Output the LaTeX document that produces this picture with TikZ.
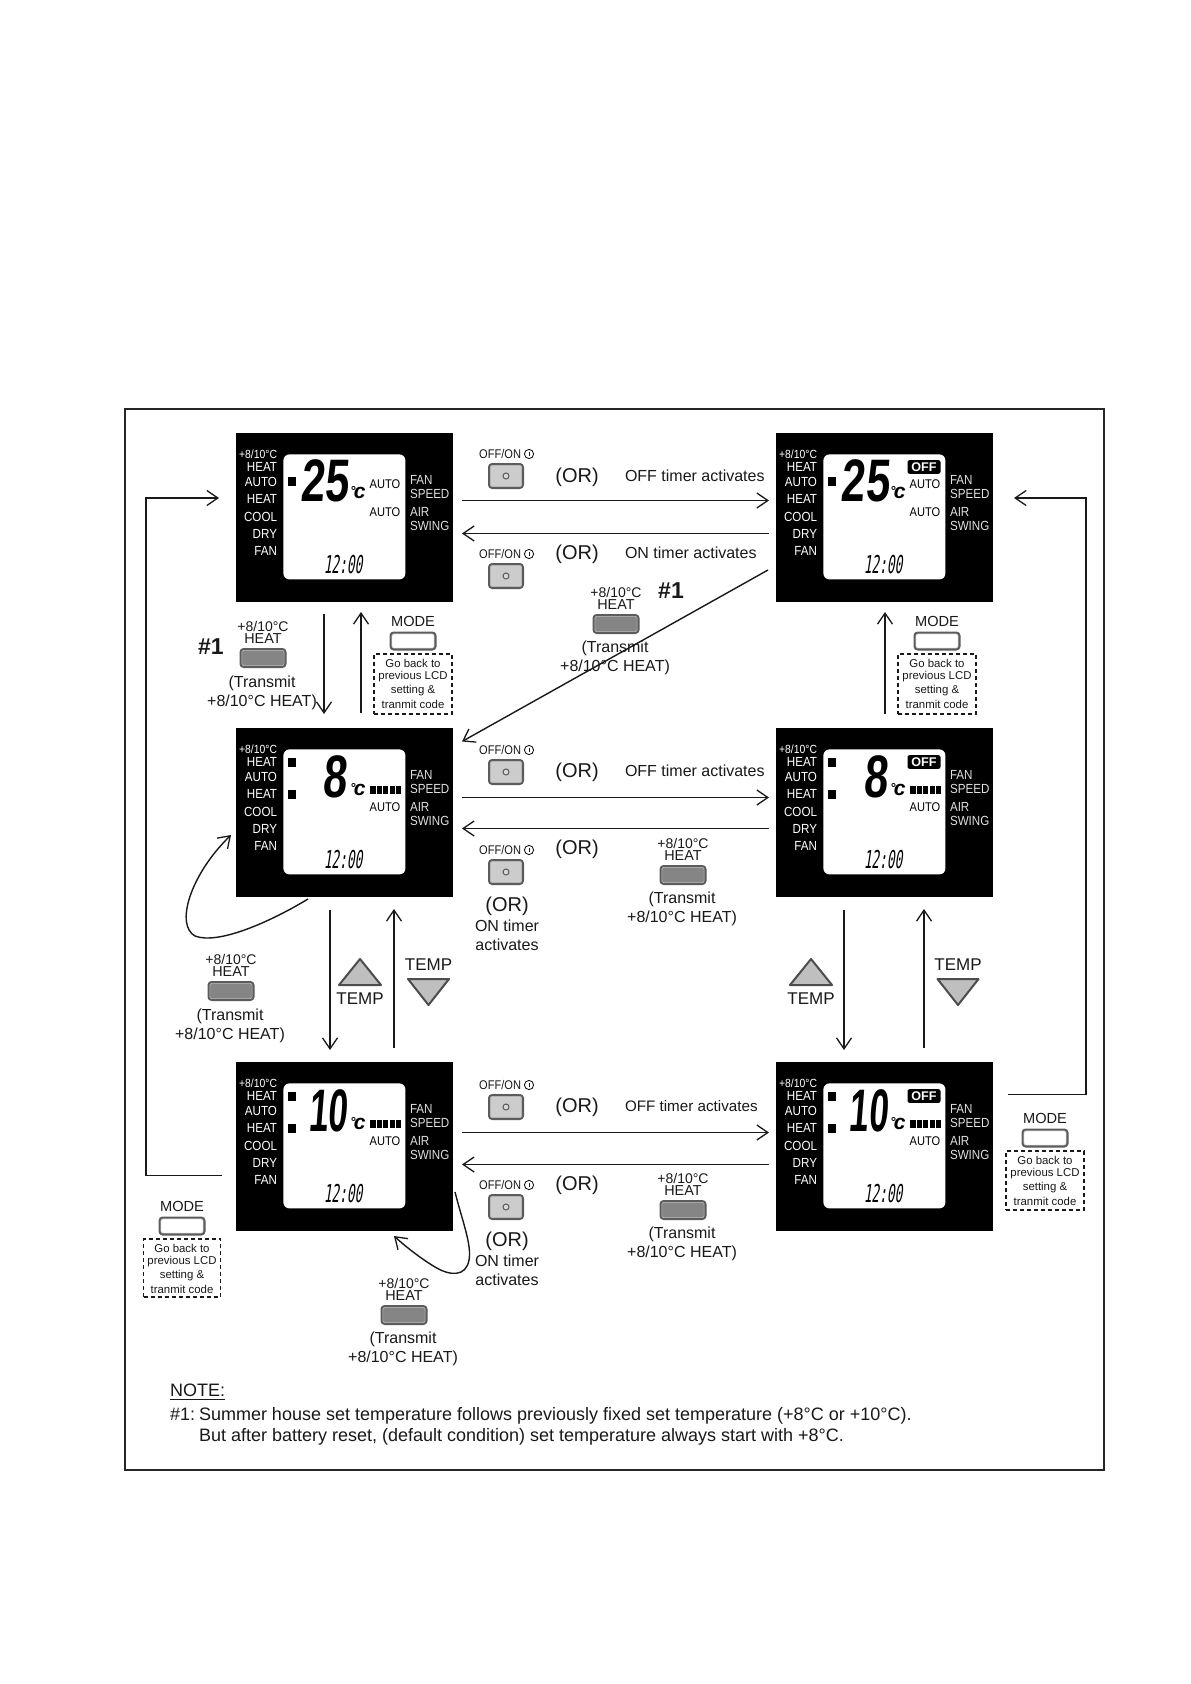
\documentclass[tikz,border=0pt]{standalone}
\usepackage{fontspec}
\setmainfont{Liberation Sans}
\newfontfamily\lcdf[FakeStretch=0.88]{Liberation Sans}
\newfontfamily\digbig[FakeStretch=0.72,FakeSlant=0.08]{Liberation Sans}
\newfontfamily\digten[FakeStretch=0.58,FakeSlant=0.08]{Liberation Sans}
\newfontfamily\digsmall[FakeStretch=0.52,FakeSlant=0.15]{DejaVu Sans Mono}
\usetikzlibrary{arrows.meta}
\definecolor{ink}{gray}{0.1}
\newcommand\fsz[1]{\fontsize{#1}{#1}\selectfont}
\newcounter{tn}
\tikzset{
  txt/.style={inner sep=0pt,outer sep=0pt,text=ink,font=\fsz{8}},
  lcdl/.style={txt,text=white,anchor=east,font=\lcdf\fsz{6.6}},
  lcdr/.style={txt,text=white!88!black,anchor=west,font=\lcdf\fsz{6.6}},
  dash box/.style={draw=ink,dashed,line width=0.7pt,dash pattern=on 2pt off 1.5pt,inner sep=0pt,outer sep=0pt},
  arr/.style={draw=ink,line width=0.7pt,-{Straight Barb[length=5.5pt,width=7.5pt,line width=0.65pt]}},
  tri/.style={draw=black!70,fill=black!25,line width=1pt,line join=round},
  btnout/.style={inner sep=0pt,outer sep=0pt,rounded corners=2pt,fill=black!64},
  btnin/.style={inner sep=0pt,outer sep=0pt,rounded corners=1pt},
}
\newcommand\tlab[4][]{\stepcounter{tn}\node[txt,#1] (t\arabic{tn}) at (#2,#3+1) {#4};}
% button: x y width height fill
\newcommand\btn[5]{\stepcounter{tn}%
  \node[btnout,minimum width=#3*0.5pt,minimum height=#4*0.5pt] (b\arabic{tn}) at (#1,#2) {};%
  \node[btnin,fill=#5,draw=white!75!black,line width=0.3pt,minimum width=#3*0.5pt-2.4pt,minimum height=#4*0.5pt-2.4pt] (bi\arabic{tn}) at (#1,#2) {};}
\newcommand\offbtn[2]{\btn{#1}{#2}{36}{26}{black!20}\stepcounter{tn}%
  \node[circle,draw=black!65,line width=0.5pt,minimum size=3pt,inner sep=0pt,fill=black!15] (c\arabic{tn}) at (#1,#2) {};}
\newcommand\heatbtn[2]{\btn{#1}{#2}{47}{20}{black!48}}
\newcommand\modebtn[2]{\btn{#1}{#2}{47}{19}{white}}
\newcommand\offlab[2]{\tlab[font=\lcdf\fsz{6.3},anchor=east]{#1+15}{#2-1}{OFF/ON}\stepcounter{tn}%
  \node[circle,draw=ink,line width=0.45pt,minimum size=4.6pt,inner sep=0pt] (c\arabic{tn}) at (#1+23,#2) {};%
  \draw[ink,line width=0.45pt] (#1+23,#2-2.5) -- (#1+23,#2+1.5);}
\newcommand\heatlab[2]{\tlab[font=\fsz{7}]{#1}{#2}{+8/10°C}\tlab[font=\fsz{7.2}]{#1}{#2+13}{HEAT}\heatbtn{#1}{#2+33}}
\newcommand\translab[2]{\tlab{#1}{#2}{(Transmit}\tlab{#1}{#2+19}{+8/10°C HEAT)}}
\newcommand\gonote[4]{\tlab[font=\fsz{7.3}]{#1}{#2-34}{MODE}\modebtn{#1}{#2-13}%
  \stepcounter{tn}\node[dash box,minimum width=#3*0.5pt,minimum height=#4*0.5pt,anchor=north] (d\arabic{tn}) at (#1,#2) {};%
  \tlab[font=\fsz{5.7}]{#1}{#2+8}{Go back to}\tlab[font=\fsz{5.7}]{#1}{#2+22}{previous LCD}\tlab[font=\fsz{5.7}]{#1}{#2+36}{setting \&}\tlab[font=\fsz{5.7}]{#1}{#2+49}{tranmit code}}
% \lcd name x y
\newcommand\lcd[3]{%
  \node[inner sep=0pt,outer sep=0pt,fill=black,minimum width=108.5pt,minimum height=84.5pt,anchor=north west] (#1) at (#2,#3) {};
  \begin{scope}[shift={(#2,#3)}]
  \stepcounter{tn}\node[fill=white,rounded corners=3pt,inner sep=0pt,minimum width=61pt,minimum height=62.5pt,anchor=north west] (s\arabic{tn}) at (47,21) {};
  \node[lcdl,font=\lcdf\fsz{5.9}] (#1a) at (41,21) {+8/10°C};
  \node[lcdl] (#1b) at (41,34) {HEAT};
  \node[lcdl] (#1c) at (41,49) {AUTO};
  \node[lcdl] (#1d) at (41,66) {HEAT};
  \node[lcdl] (#1e) at (41,84) {COOL};
  \node[lcdl] (#1f) at (41,101) {DRY};
  \node[lcdl] (#1g) at (41,118) {FAN};
  \node[lcdr] (#1h) at (174,47) {FAN};
  \node[lcdr] (#1i) at (174,61) {SPEED};
  \node[lcdr] (#1j) at (174,79) {AIR};
  \node[lcdr] (#1k) at (174,93) {SWING};
  \node[txt,text=black,font=\digsmall\fsz{12.3}] (#1l) at (107,132) {12:00};
  \end{scope}}
\newcommand\degc[2]{\stepcounter{tn}\node[txt,text=black,font=\bfseries\itshape\fsz{10.5}] (u\arabic{tn}) at (#1,#2) {{\fsz{6.5}\raisebox{1.5pt}{°}}\kern-0.8pt c};}
\newcommand\sq[2]{\stepcounter{tn}\node[fill=black,inner sep=0pt,minimum width=4pt,minimum height=4.5pt] (q\arabic{tn}) at (#1,#2) {};}
\newcommand\bars[2]{\foreach \i in {0,...,4}{\stepcounter{tn}\node[fill=black,inner sep=0pt,minimum width=2.6pt,minimum height=4.2pt] (r\arabic{tn}) at (#1+\i*6.4,#2) {};}}
\newcommand\offbadge[2]{\stepcounter{tn}\node[fill=black,rounded corners=1pt,text=white,font=\bfseries\fsz{6.3},inner sep=0pt,minimum width=16.5pt,minimum height=6.8pt] (o\arabic{tn}) at (#1,#2) {OFF};}
\newcommand\auto[2]{\stepcounter{tn}\node[txt,text=black,font=\lcdf\fsz{6.3}] (a\arabic{tn}) at (#1,#2) {AUTO};}
\newcommand\bigd[3]{\stepcounter{tn}\node[txt,text=black,font=\digbig\bfseries\fsz{30}] (g\arabic{tn}) at (#1,#2) {#3};}
\newcommand\bigt[3]{\stepcounter{tn}\node[txt,text=black,font=\digten\bfseries\fsz{30}] (g\arabic{tn}) at (#1,#2) {#3};}
\begin{document}
\begin{tikzpicture}[x=0.5pt,y=-0.5pt]
\useasboundingbox (0,0) rectangle (1190,1684);
\fill[white] (0,0) rectangle (1190,1684);
\draw[black!85,line width=0.7pt] (125,409) rectangle (1104,1470);

% ---- LCD panels
\lcd{tl}{236}{433}\lcd{tr}{776}{433}
\lcd{ml}{236}{728}\lcd{mr}{776}{728}
\lcd{bl}{236}{1062}\lcd{br}{776}{1062}

% panel contents: top row
\sq{292}{481}\bigd{325}{481}{25}\degc{358}{493}\auto{385}{484}\auto{385}{512}
\sq{832}{481}\bigd{865}{481}{25}\degc{898}{493}\auto{925}{484}\auto{925}{512}\offbadge{924}{467}
% middle row
\sq{292}{762}\sq{292}{794}\bigd{335}{777}{8}\degc{358}{790}\bars{373}{790}\auto{385}{807}
\sq{832}{762}\sq{832}{794}\bigd{875}{777}{8}\degc{898}{790}\bars{913}{790}\auto{925}{807}\offbadge{924}{762}
% bottom row
\sq{292}{1096}\sq{292}{1128}\bigt{328}{1111}{10}\degc{358}{1124}\bars{373}{1124}\auto{385}{1141}
\sq{832}{1096}\sq{832}{1128}\bigt{868}{1111}{10}\degc{898}{1124}\bars{913}{1124}\auto{925}{1141}\offbadge{924}{1096}

% ---- horizontal connectors
\draw[arr] ([shift={(9,-17)}]tl.east) -- ([shift={(-7,-17)}]tr.west);
\draw[arr] ([shift={(-7,16)}]tr.west) -- ([shift={(9,16)}]tl.east);
\draw[arr] ([shift={(9,-15)}]ml.east) -- ([shift={(-7,-15)}]mr.west);
\draw[arr] ([shift={(-7,16)}]mr.west) -- ([shift={(9,16)}]ml.east);
\draw[arr] ([shift={(9,-14)}]bl.east) -- ([shift={(-7,-14)}]br.west);
\draw[arr] ([shift={(-7,18)}]br.west) -- ([shift={(9,18)}]bl.east);
% diagonal
\draw[arr] ([shift={(-8,52.5)}]tr.west) -- ([shift={(9,-71)}]ml.east);

% ---- vertical connectors
\draw[arr] ([shift={(-20.5,12)}]tl.south) -- ([shift={(-20.5,-14)}]ml.north);
\draw[arr] ([shift={(16.5,-15)}]ml.north) -- ([shift={(16.5,10)}]tl.south);
\draw[arr] ([shift={(0.5,-14)}]mr.north) -- ([shift={(0.5,10)}]tr.south);
\draw[arr] ([shift={(-14.5,13)}]ml.south) -- ([shift={(-14.5,-12)}]bl.north);
\draw[arr] ([shift={(49.5,-14)}]bl.north) -- ([shift={(49.5,12)}]ml.south);
\draw[arr] ([shift={(-40.5,13)}]mr.south) -- ([shift={(-40.5,-12)}]br.north);
\draw[arr] ([shift={(39.5,-14)}]br.north) -- ([shift={(39.5,12)}]mr.south);

% ---- outer loops
\draw[arr] ([shift={(-14,29)}]bl.west) -- ++(-76,0) |- ([shift={(-17,-19.5)}]tl.west);
\draw[arr] ([shift={(15,-52)}]br.east) -- ++(78,0) |- ([shift={(21,-19.5)}]tr.east);

% ---- self loops
\draw[arr] (308,899) .. controls (270,922) and (218,945) .. (195,936) .. controls (175,925) and (190,875) .. (231,835);
\draw[arr] (455,1192) .. controls (462,1220) and (472,1245) .. (469,1260) .. controls (466,1277) and (450,1276) .. (435,1267) .. controls (420,1258) and (405,1246) .. (394,1236);

% ---- row 1 labels
\offlab{506}{454}\offbtn{506}{476}
\tlab[font=\fsz{10}]{577}{476}{(OR)}
\tlab[anchor=west]{625}{475}{OFF timer activates}
\offlab{506}{554}\offbtn{506}{576}
\tlab[font=\fsz{10}]{577}{553}{(OR)}
\tlab[anchor=west]{625}{552}{ON timer activates}
\heatlab{616}{591}\translab{615}{647}
\tlab[font=\bfseries\fsz{11.5}]{671}{590}{\#1}

% left top
\heatlab{263}{625}\translab{262}{682}
\tlab[font=\bfseries\fsz{11.5}]{211}{646}{\#1}
\gonote{413}{654}{78}{60}
\gonote{937}{654}{78}{60}

% ---- row 2 labels
\offlab{506}{750}\offbtn{506}{772}
\tlab[font=\fsz{10}]{577}{771}{(OR)}
\tlab[anchor=west]{625}{770}{OFF timer activates}
\offlab{506}{850}\offbtn{506}{872}
\tlab[font=\fsz{10}]{577}{848}{(OR)}
\heatlab{683}{842}\translab{682}{898}
\tlab[font=\fsz{10}]{507}{905}{(OR)}
\tlab{507}{925}{ON timer}\tlab{507}{944}{activates}

% left mid
\heatlab{231}{958}\translab{230}{1015}

% ---- TEMP triangles
\tlab[font=\fsz{8.5}]{360}{998}{TEMP}
\draw[tri] (339,985) -- (360,959) -- (381,985) -- cycle;
\tlab[font=\fsz{8.5}]{428.5}{964}{TEMP}
\draw[tri] (408,979) -- (449,979) -- (428.5,1005) -- cycle;
\tlab[font=\fsz{8.5}]{811}{998}{TEMP}
\draw[tri] (790,985) -- (811,959) -- (832,985) -- cycle;
\tlab[font=\fsz{8.5}]{958}{964}{TEMP}
\draw[tri] (937.5,979) -- (978.5,979) -- (958,1005) -- cycle;

% ---- row 3 labels
\offlab{506}{1085}\offbtn{506}{1107}
\tlab[font=\fsz{10}]{577}{1106}{(OR)}
\tlab[anchor=west,font=\fsz{7.6}]{625}{1105}{OFF timer activates}
\offlab{506}{1185}\offbtn{506}{1207}
\tlab[font=\fsz{10}]{577}{1184}{(OR)}
\heatlab{683}{1177}\translab{682}{1233}
\tlab[font=\fsz{10}]{507}{1240}{(OR)}
\tlab{507}{1260}{ON timer}\tlab{507}{1279}{activates}
\heatlab{404}{1282}\translab{403}{1338}
\gonote{182}{1239}{77}{58}
\gonote{1045}{1151}{78}{59}

% ---- note
\tlab[anchor=base west,font=\fsz{9}]{170}{1395}{\underline{NOTE:}}
\tlab[anchor=base west,font=\fsz{9}]{170}{1419}{\#1:}
\tlab[anchor=base west,font=\fsz{9}]{199}{1419}{Summer house set temperature follows previously fixed set temperature (+8°C or +10°C).}
\tlab[anchor=base west,font=\fsz{9}]{199}{1440}{But after battery reset, (default condition) set temperature always start with +8°C.}
\end{tikzpicture}
\end{document}
